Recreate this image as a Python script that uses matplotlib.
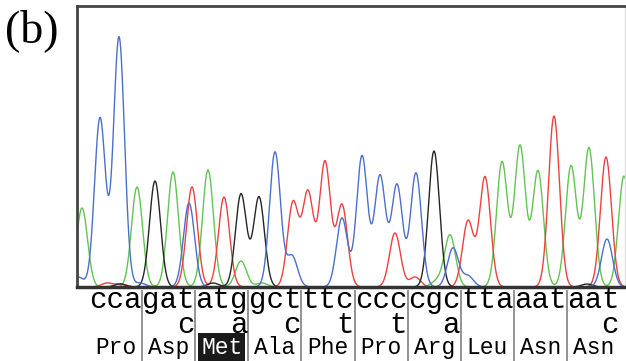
import matplotlib.pyplot as plt
import numpy as np

# peak positions (trace units) and heights, per channel
green_pos = [82, 137, 173, 208, 241, 262, 437, 450, 502, 520, 538, 571, 589, 624]
green_hgt = [79, 100, 115, 117, 26, 4, 6, 52, 125, 141, 116, 121, 139, 111]
blue_pos = [78, 100, 119, 140, 189, 275, 292, 342, 362, 380, 397, 416, 453, 468, 607]
blue_hgt = [10, 169, 250, 4, 84, 135, 31, 69, 131, 111, 102, 114, 39, 11, 48]
black_pos = [120, 155, 213, 241, 259, 434, 587]
black_hgt = [3, 106, 4, 93, 90, 136, 3]
red_pos = [107, 121, 192, 224, 293, 308, 325, 342, 395, 415, 468, 485, 554, 606]
red_hgt = [4, 3, 100, 90, 84, 94, 125, 82, 54, 10, 66, 110, 171, 130]

codons = ["cca", "gat", "atg", "gct", "ttc", "ccc", "cgc", "tta", "aat", "aat"]
second = ["", "c", "a", "c", "t", "t", "a", "", "", "c"]
amino = ["Pro", "Asp", "Met", "Ala", "Phe", "Pro", "Arg", "Leu", "Asn", "Asn"]
highlight = "Met"

sigma = 5.5
x = np.linspace(77, 626, 2000)


def trace(pos, hgt):
    y = np.zeros_like(x)
    for p, h in zip(pos, hgt):
        y += h * np.exp(-(x - p) ** 2 / (2 * sigma ** 2))
    return y


fig = plt.figure(figsize=(6.26, 3.61), dpi=100)
ax = fig.add_axes([77 / 626, 1 - 287 / 361, 548 / 626, 281 / 361])

ax.plot(x, trace(green_pos, green_hgt), color="#62c452", lw=1.0)
ax.plot(x, trace(red_pos, red_hgt), color="#ef4040", lw=1.0)
ax.plot(x, trace(black_pos, black_hgt), color="#262626", lw=1.0)
ax.plot(x, trace(blue_pos, blue_hgt), color="#4c6fcc", lw=1.0)

ax.set_xlim(77, 625)
ax.set_ylim(0, 281)
ax.set_xticks([])
ax.set_yticks([])
for s in ["top", "left"]:
    ax.spines[s].set_color("#444444")
    ax.spines[s].set_linewidth(2)
ax.spines["bottom"].set_color("#333333")
ax.spines["bottom"].set_linewidth(2.5)
ax.spines["right"].set_color("#dddddd")
ax.spines["right"].set_linewidth(1)

# codon grid below the trace
start, width = 89, 53.1
mono = "Liberation Mono"
for i, cod in enumerate(codons):
    cx = start + width * (i + 0.5)
    ax.text(cx, -21, cod, ha="center", va="baseline", fontsize=21,
            family=mono, clip_on=False)
    if second[i]:
        ax.text(start + width * (i + 1) - 1, -46, second[i], ha="right",
                va="baseline", fontsize=21, family=mono, clip_on=False)
    if amino[i] == highlight:
        ax.text(cx, -67, amino[i], ha="center", va="baseline", fontsize=16.5,
                family=mono, color="white", clip_on=False,
                bbox=dict(boxstyle="square,pad=0.12", fc="#1a1a1a", ec="none"))
    else:
        ax.text(cx, -67, amino[i], ha="center", va="baseline", fontsize=16.5,
                family=mono, clip_on=False)
    if i > 0:
        bx = start + width * i
        ax.plot([bx, bx], [-4, -75], color="#8a8a8a", lw=1.3, clip_on=False)

fig.text(5 / 626, 1 - 42 / 361, "(b)", fontsize=33, family="Liberation Serif",
         va="baseline", ha="left")

fig.savefig("out.png", dpi=100)
